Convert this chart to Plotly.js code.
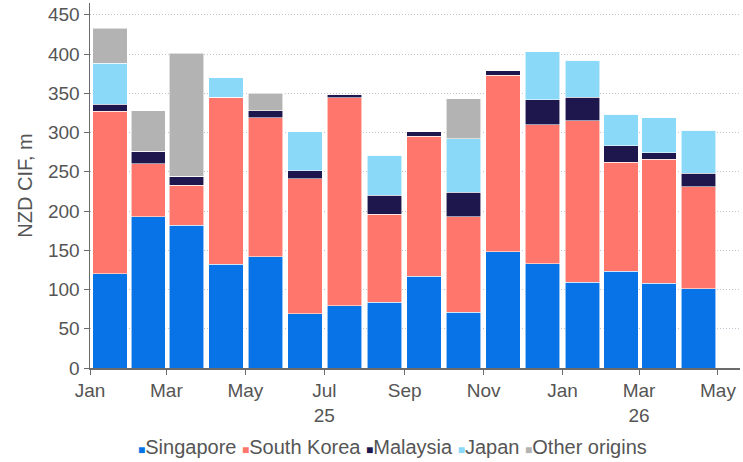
<!DOCTYPE html>
<html>
<head>
<meta charset="utf-8">
<script src="https://cdn.plot.ly/plotly-3.0.1.min.js"></script>
<style>html,body{margin:0;padding:0;background:#fff;}#chart{width:743px;height:462px;}</style>
</head>
<body>
<div id="chart"></div>
<script>
const months = ["2025-01","2025-02","2025-03","2025-04","2025-05","2025-06","2025-07","2025-08","2025-09","2025-10","2025-11","2025-12","2026-01","2026-02","2026-03","2026-04"];
const singapore  = [120,193,182,132,142, 69, 79, 84,117, 71,148,133,109,123,108,101];
const southKorea = [207, 67, 51,213,177,172,265,112,178,122,225,177,206,139,158,130];
const malaysia   = [  9, 16, 11,  0,  9, 10,  5, 24,  6, 31,  6, 32, 30, 21,  8, 17];
const japan      = [ 52,  0,  0, 25,  0, 50,  0, 51,  0, 68,  0, 61, 47, 40, 45, 55];
const other      = [ 45, 52,157,  0, 22,  0,  0,  0,  0, 51,  0,  0,  0,  0,  0,  0];
const seriesNames = ["Singapore","South Korea","Malaysia","Japan","Other origins"];
const seriesColors = ["#0873E6","#FF766C","#1E174E","#8AD9F8","#B3B3B3"];
const tickVals = ["2025-01-01","2025-03-01","2025-05-01","2025-07-01","2025-09-01","2025-11-01","2026-01-01","2026-03-01","2026-05-01"];
const tickText = ["Jan","Mar","May","Jul<br>25","Sep","Nov","Jan","Mar<br>26","May"];

const seriesValues = [singapore, southKorea, malaysia, japan, other];
const textColor = "#555555";
const fontFamily = "Liberation Sans, Arial, sans-serif";

const traces = seriesValues.map((vals, i) => ({
  type: "bar",
  name: seriesNames[i],
  x: months,
  y: vals,
  xperiod: "M1",
  xperiodalignment: "middle",
  marker: {color: seriesColors[i], line: {color: "rgba(255,255,255,0.7)", width: 0.8}},
  showlegend: false,
  hoverinfo: "x+y+name"
}));

const legendText = seriesNames.map((n, i) =>
  `<span style="color:${seriesColors[i]};font-size:12px">■</span>${n}`).join(" ");

const layout = {
  width: 743, height: 462,
  margin: {l: 90, r: 3, t: 3, b: 94},
  paper_bgcolor: "#fff", plot_bgcolor: "#fff",
  barmode: "stack",
  bargap: 0.1,
  font: {family: fontFamily, size: 19, color: textColor},
  xaxis: {
    type: "date",
    range: ["2025-01-01", "2026-05-18"],
    tickvals: tickVals,
    ticktext: tickText,
    showgrid: false,
    showline: true, linecolor: "#6b6b6b", linewidth: 1.5,
    ticks: "outside", ticklen: 5, tickcolor: "#6b6b6b",
    tickfont: {size: 19, color: textColor},
    zeroline: false
  },
  yaxis: {
    range: [0, 465],
    tickvals: [0,50,100,150,200,250,300,350,400,450],
    showgrid: true, gridcolor: "#bcc6d0", griddash: "1px,2px", gridwidth: 1,
    showline: true, linecolor: "#6b6b6b", linewidth: 1.5,
    ticks: "outside", ticklen: 5, tickcolor: "#6b6b6b",
    tickfont: {size: 19, color: textColor},
    zeroline: false,
    title: {text: "NZD CIF, m", font: {size: 20, color: textColor}, standoff: 10}
  },
  annotations: [{
    xref: "paper", yref: "paper",
    x: 0.466, y: -0.216,
    xanchor: "center", yanchor: "middle",
    showarrow: false,
    text: legendText,
    font: {size: 20, color: textColor}
  }]
};

Plotly.newPlot("chart", traces, layout, {displayModeBar: false, staticPlot: true});
</script>
</body>
</html>
